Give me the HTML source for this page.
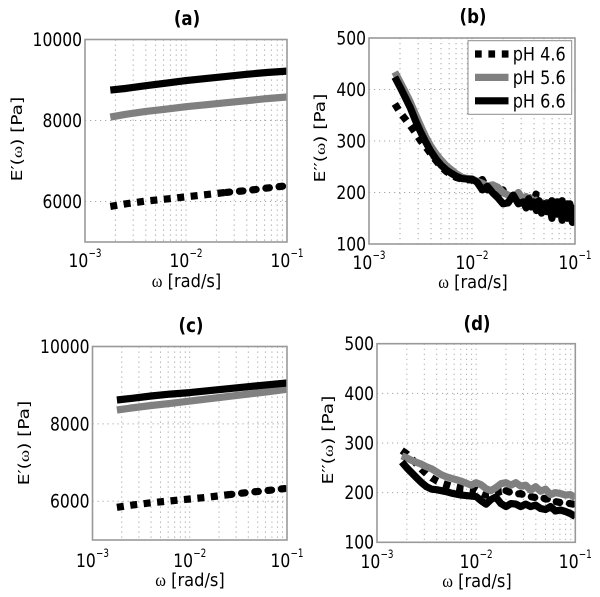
<!DOCTYPE html>
<html lang="en">
<head>
<meta charset="utf-8">
<title>Storage and loss modulus versus frequency</title>
<style>
html,body{margin:0;padding:0;background:#fff;}
svg{display:block;font-family:"DejaVu Sans","Liberation Sans",sans-serif;fill:#000;}
.omega{font-family:"Liberation Serif","DejaVu Serif",serif;}
</style>
</head>
<body>
<svg id="figure" width="600" height="597" viewBox="0 0 600 597" xmlns="http://www.w3.org/2000/svg"></svg>
<script>
const omegaCoarse = [0.00178, 0.0025, 0.004, 0.0063, 0.01, 0.016, 0.025, 0.04, 0.063, 0.1];
const omegaFine = [0.00178, 0.0020, 0.00224, 0.00251, 0.00282, 0.00316, 0.00355, 0.00398, 0.00447, 0.00501, 0.00562, 0.00631, 0.00708, 0.00794, 0.00891, 0.01, 0.0112, 0.0126, 0.0141, 0.0158, 0.0178, 0.02, 0.0224, 0.0251, 0.0282, 0.0316, 0.0355, 0.0398, 0.0447, 0.0501, 0.0562, 0.0631, 0.0708, 0.0794, 0.0891, 0.1];
const omegaDense = [0.00178, 0.0020, 0.00224, 0.00251, 0.00282, 0.00316, 0.00355, 0.00398, 0.00447, 0.00501, 0.00562, 0.00631, 0.00708, 0.00794, 0.00891, 0.01, 0.0112, 0.0126, 0.0141, 0.0158, 0.0178, 0.02, 0.0224, 0.0251, 0.0282, 0.0316, 0.0335, 0.0355, 0.0376, 0.0398, 0.0422, 0.0447, 0.0473, 0.0501, 0.0531, 0.0562, 0.0596, 0.0631, 0.0668, 0.0708, 0.075, 0.0794, 0.0841, 0.0891, 0.0944, 0.1];

const seriesNames = ["pH 4.6", "pH 5.6", "pH 6.6"];

const panelA46 = [5880, 5940, 6010, 6060, 6115, 6170, 6225, 6270, 6330, 6390];
const panelA56 = [8085, 8150, 8225, 8280, 8340, 8390, 8440, 8490, 8540, 8580];
const panelA66 = [8750, 8790, 8860, 8920, 8985, 9040, 9090, 9140, 9185, 9220];

const panelB46 = [372, 356, 343, 330, 316, 301, 289, 275, 262, 250, 241, 234, 229, 226, 225, 224, 218, 225, 205, 210, 195, 205, 180, 195, 185, 190, 180, 195, 185, 178, 200, 172, 182, 165, 180, 170, 184, 160, 182, 168, 184, 158, 178, 160, 175, 170];
const panelB56 = [434, 415, 396, 376, 352, 330, 308, 290, 275, 263, 252, 244, 236, 230, 227, 226, 222, 218, 212, 215, 210, 200, 195, 190, 200, 185, 192, 178, 188, 175, 185, 170, 180, 165, 178, 170, 175, 160, 172, 165, 170, 155, 168, 160, 165, 150];
const panelB66 = [424, 405, 385, 365, 340, 318, 298, 280, 265, 253, 244, 237, 231, 227, 226, 226, 220, 205, 212, 200, 190, 178, 180, 195, 178, 182, 170, 188, 172, 182, 165, 184, 160, 178, 163, 180, 150, 176, 158, 180, 146, 176, 150, 178, 142, 172];

const panelC46 = [5845, 5900, 5960, 6010, 6060, 6110, 6170, 6230, 6280, 6335];
const panelC56 = [8360, 8410, 8475, 8530, 8590, 8650, 8710, 8770, 8830, 8894];
const panelC66 = [8618, 8660, 8720, 8770, 8810, 8860, 8910, 8960, 9010, 9057];

const panelD46 = [285, 278, 268, 258, 247, 238, 230, 224, 219, 216, 213, 211, 209, 208, 207, 206, 200, 195, 195, 198, 203, 204, 200, 197, 198, 193, 192, 190, 192, 187, 188, 182, 180, 180, 178, 176];
const panelD56 = [274, 270, 265, 261, 257, 252, 248, 242, 236, 232, 229, 226, 223, 219, 215, 220, 216, 208, 204, 210, 218, 220, 215, 220, 213, 215, 205, 212, 203, 207, 196, 200, 198, 195, 196, 190];
const panelD66 = [262, 250, 240, 230, 220, 212, 207, 206, 204, 202, 199, 197, 195, 194, 193, 192, 184, 177, 186, 191, 178, 172, 178, 177, 172, 177, 172, 175, 168, 166, 172, 163, 165, 162, 158, 152];

const storageTicks = [6000, 8000, 10000];
const lossTicks = [100, 200, 300, 400, 500];
const xTickExponents = [-3, -2, -1];

const panels = [
  {id:"a", title:"(a)", left:85, right:287, top:39.5, bottom:242, yMin:5000, yMax:10000, ticks:storageTicks, prime:"\u2032", omega:omegaCoarse, series:[panelA46,panelA56,panelA66], titleX:187, titleY:25, xLabelX:186.5, xLabelY:287, yLabelX:22, yLabelY:139, xTickY:267},
  {id:"b", title:"(b)", left:369, right:575, top:38, bottom:244, yMin:100, yMax:500, ticks:lossTicks, prime:"\u2032\u2032", omega:omegaDense, series:[panelB46,panelB56,panelB66], titleX:473, titleY:23, xLabelX:473, xLabelY:288, yLabelX:325, yLabelY:138, xTickY:269, legend:true},
  {id:"c", title:"(c)", left:92.5, right:287, top:346.5, bottom:540, yMin:5000, yMax:10000, ticks:storageTicks, prime:"\u2032", omega:omegaCoarse, series:[panelC46,panelC56,panelC66], titleX:191, titleY:332, xLabelX:190, xLabelY:586, yLabelX:29, yLabelY:443, xTickY:567},
  {id:"d", title:"(d)", left:377, right:575.3, top:343.7, bottom:542.3, yMin:100, yMax:500, ticks:lossTicks, prime:"\u2032\u2032", omega:omegaFine, series:[panelD46,panelD56,panelD66], titleX:477, titleY:330, xLabelX:477, xLabelY:587, yLabelX:333, yLabelY:440, xTickY:568}
];

const svgNS = "http://www.w3.org/2000/svg";
const figure = document.getElementById("figure");
const seriesColors = ["#000", "#808080", "#000"];
const squeeze = 0.85;
const blobStart = 0.02;

function make(tag, attrs, parent, text) {
  const el = document.createElementNS(svgNS, tag);
  for (const key in attrs) el.setAttribute(key, attrs[key]);
  if (text !== undefined) el.textContent = text;
  parent.appendChild(el);
  return el;
}

function placed(parent, x, y, size, anchor, rotated, text, sx) {
  const attrs = {
    x: 0,
    y: 0,
    "font-size": size,
    "text-anchor": anchor,
    transform: "translate(" + x + " " + y + ") scale(" + (sx || squeeze) + " 1)" + (rotated ? " rotate(-90)" : "")
  };
  return make("text", attrs, parent, text);
}

function styleLine(el, index) {
  el.setAttribute("stroke", seriesColors[index]);
  el.setAttribute("stroke-width", "7.2");
  el.setAttribute("fill", "none");
  el.setAttribute("stroke-linejoin", "round");
}

function drawPanel(p) {
  const xScale = w => p.left + (Math.log10(w) + 3) / 2 * (p.right - p.left);
  const yScale = v => p.bottom - (v - p.yMin) / (p.yMax - p.yMin) * (p.bottom - p.top);

  const group = make("g", {}, figure);
  
  

  const clip = make("clipPath", {id:"clip-" + p.id}, group);
  make("rect", {x:p.left, y:p.top, width:p.right - p.left, height:p.bottom - p.top}, clip);

  const grid = make("g", {stroke:"#a6a6a6", "stroke-width":"1", "stroke-dasharray":"1.2 3.8"}, group);
  
  
  for (let decade = -3; decade < -1; decade++) {
    for (let m = 1; m < 10; m++) {
      if (decade === -3 && m === 1) continue;
      const gx = xScale(m * Math.pow(10, decade));
      make("line", {x1:gx, x2:gx, y1:p.top, y2:p.bottom}, grid);
    }
  }
  p.ticks.forEach(tick => {
    if (tick === p.yMin || tick === p.yMax) return;
    make("line", {x1:p.left, x2:p.right, y1:yScale(tick), y2:yScale(tick)}, grid);
  });

  const plot = make("g", {"clip-path":"url(#clip-" + p.id + ")"}, group);
  p.series.forEach((values, index) => {
    const coords = values.map((v, i) => xScale(p.omega[i]).toFixed(1) + "," + yScale(v).toFixed(1));
    const seriesName = 'series-' + seriesNames[index].replace(/[ .]/g, '-').toLowerCase();
    if (index === 0) {
      const splitAt = p.omega.findIndex(w => w >= blobStart);
      const early = make("polyline", {points:coords.slice(0, splitAt + 1).join(" ")}, plot);
      styleLine(early, index);
      early.setAttribute("stroke-dasharray", "7 6.5");
      
      
      const late = make("polyline", {points:coords.slice(splitAt).join(" ")}, plot);
      styleLine(late, index);
      late.setAttribute("stroke-dasharray", "3.5 9.8");
      late.setAttribute("stroke-linecap", "round");
      
      
    } else {
      const line = make("polyline", {points:coords.join(" ")}, plot);
      styleLine(line, index);
      
      
    }
  });

  const frame = make("rect", {x:p.left, y:p.top, width:p.right - p.left, height:p.bottom - p.top, fill:"none", stroke:"#999", "stroke-width":"1.6"}, group);
  
  

  p.ticks.forEach(tick => {
    const label = placed(group, p.left - 3, yScale(tick) + 6.4, 18.3, "end", false, String(tick));
    
    
  });

  xTickExponents.forEach(exponent => {
    const cx = xScale(Math.pow(10, exponent));
    const base = placed(group, cx - 16.5, p.xTickY, 18.3, "start", false, "10");
    
    
    const power = make("text", {x:cx + 3.5, y:p.xTickY - 10, "font-size":"11.5", textLength:"13", lengthAdjust:"spacingAndGlyphs"}, group, "\u2212" + Math.abs(exponent));
    
    
  });

  const title = placed(group, p.titleX, p.titleY, 19.5, "middle", false, p.title);
  title.setAttribute("font-weight", "bold");
  
  

  const xLabel = placed(group, p.xLabelX, p.xLabelY, 17.5, "middle", false, undefined, 0.93);
  
  
  make("tspan", {class:"omega"}, xLabel, "\u03c9");
  make("tspan", {}, xLabel, " [rad/s]");

  const yLabel = placed(group, p.yLabelX, p.yLabelY, 18.5, "middle", true, undefined, 0.82);
  
  
  make("tspan", {}, yLabel, "E" + p.prime + "(");
  make("tspan", {class:"omega"}, yLabel, "\u03c9");
  make("tspan", {}, yLabel, ") [Pa]");

  if (p.legend) drawLegend(group);
}

function drawLegend(parent) {
  const legend = make("g", {}, parent);
  
  
  make("rect", {x:468, y:40.7, width:103.7, height:73.6, fill:"#fff", stroke:"#8c8c8c", "stroke-width":"1"}, legend);
  seriesNames.forEach((name, index) => {
    const rowY = 54 + index * 23.4;
    const entry = make("g", {}, legend);
    
    
    const swatch = make("line", {x1:475, x2:508.5, y1:rowY, y2:rowY}, entry);
    styleLine(swatch, index);
    if (index === 0) swatch.setAttribute("stroke-dasharray", "6.7 6.7");
    const label = placed(entry, 512.7, rowY + 6.5, 18.3, "start", false, name, 0.88);
    
    
  });
}

panels.forEach(drawPanel);
</script>
</body>
</html>
